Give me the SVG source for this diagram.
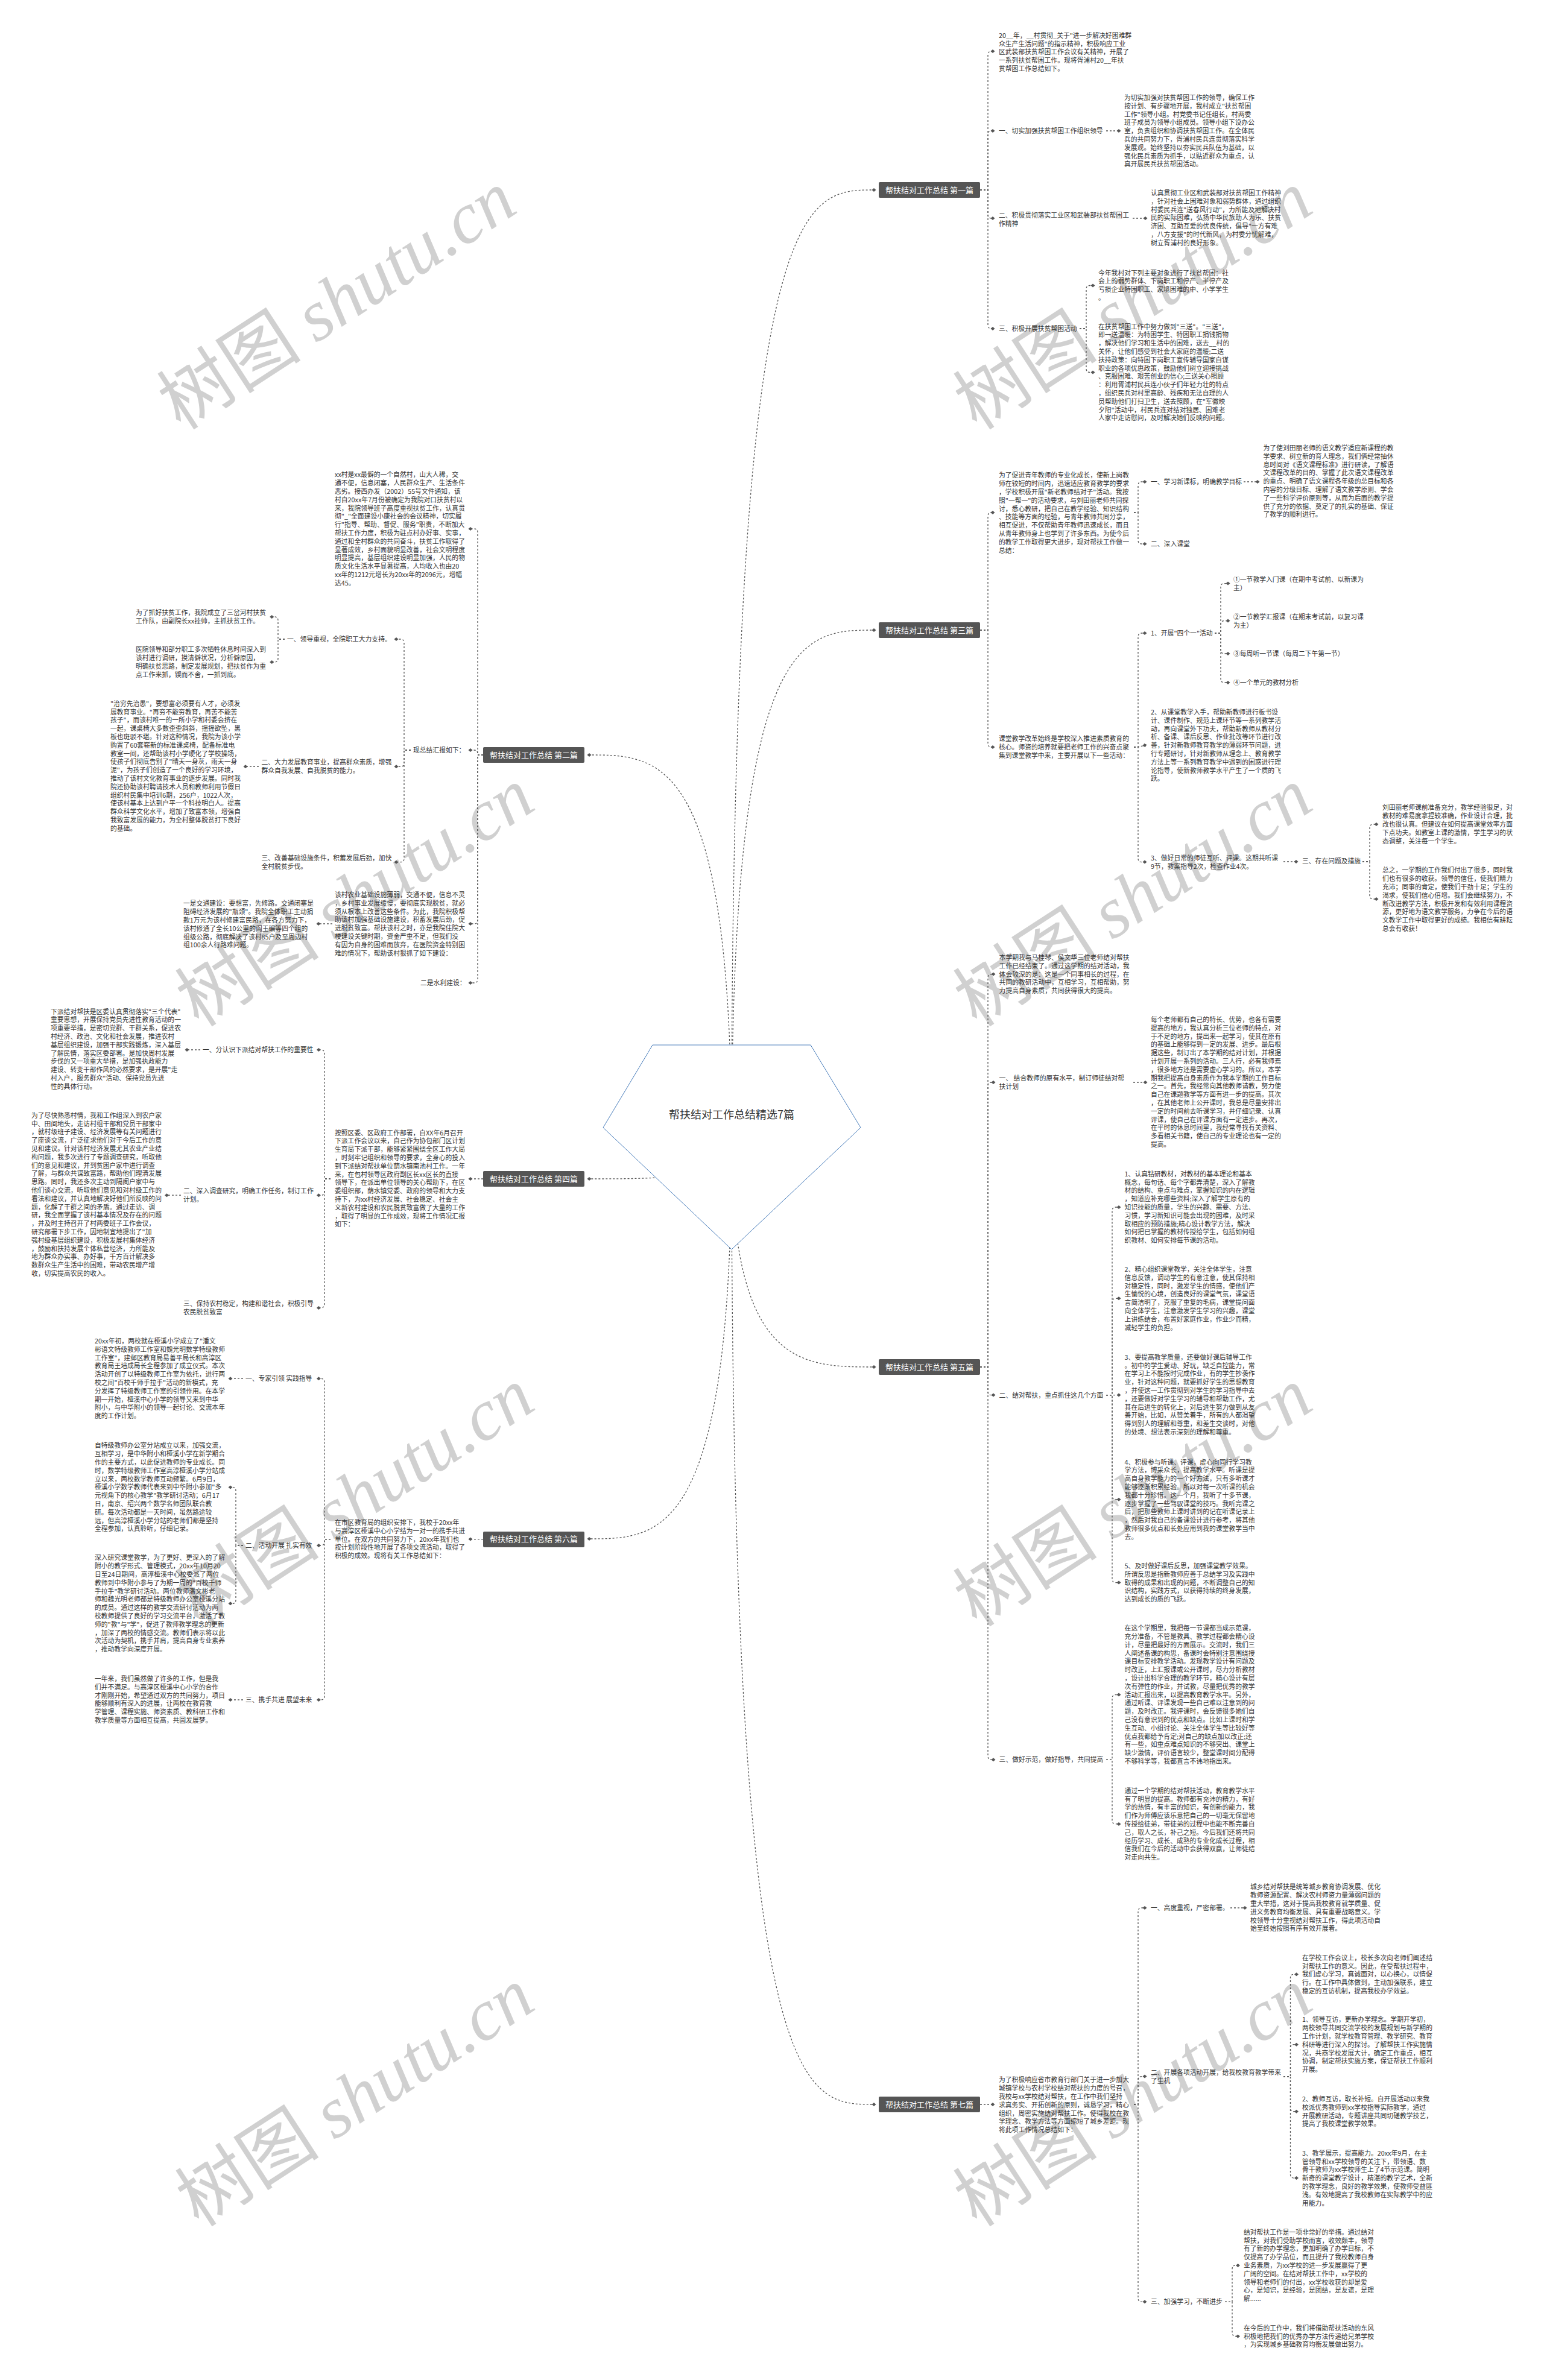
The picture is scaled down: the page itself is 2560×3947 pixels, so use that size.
<svg xmlns="http://www.w3.org/2000/svg" width="2560" height="3947" viewBox="0 0 2560 3947">
<style>
.t{font-family:"Noto Sans CJK SC","Noto Sans",sans-serif;font-size:10.8px;fill:#333}
.c path{fill:none;stroke:#555;stroke-width:1.3;stroke-dasharray:3 3;marker-end:url(#d)}
.nb{fill:#555}
.nt{font-family:"Noto Sans CJK SC","Noto Sans",sans-serif;font-size:13px;fill:#fff;text-anchor:middle}
.wm{font-family:"Noto Sans CJK SC",sans-serif;font-size:120px;fill:#d0d0d0}
.wm tspan{font-family:"Liberation Serif",serif;font-style:italic}
</style>
<defs>
<marker id="d" viewBox="-4 -4 8 8" refX="0" refY="0" markerWidth="8" markerHeight="8" markerUnits="userSpaceOnUse" orient="auto"><path d="M-3.5 0L0-3L3.5 0L0 3Z" fill="#555"/></marker>
</defs>
<rect width="2560" height="3947" fill="#fff"/>
<g id="watermark" class="wm">
<text transform="translate(300 715) rotate(-33)">树图 <tspan>shutu.cn</tspan></text>
<text transform="translate(1620 715) rotate(-33)">树图 <tspan>shutu.cn</tspan></text>
<text transform="translate(330 1705) rotate(-33)">树图 <tspan>shutu.cn</tspan></text>
<text transform="translate(1620 1705) rotate(-33)">树图 <tspan>shutu.cn</tspan></text>
<text transform="translate(330 2700) rotate(-33)">树图 <tspan>shutu.cn</tspan></text>
<text transform="translate(1620 2700) rotate(-33)">树图 <tspan>shutu.cn</tspan></text>
<text transform="translate(330 3695) rotate(-33)">树图 <tspan>shutu.cn</tspan></text>
<text transform="translate(1620 3695) rotate(-33)">树图 <tspan>shutu.cn</tspan></text>
</g>
<g id="connectors" class="c">
<path d="M1213 1900C1213 315 1330 315 1449 315"/>
<path d="M1213 1900C1213 1045 1330 1045 1449 1045"/>
<path d="M1213 1900C1213 2267 1330 2267 1449 2267"/>
<path d="M1213 1900C1213 3490 1330 3490 1449 3490"/>
<path d="M1213 1900C1213 1252 1095 1252 977 1252"/>
<path d="M1213 1900C1213 1955 1095 1955 977 1955"/>
<path d="M1213 1900C1213 2552 1095 2552 977 2552"/>
<path d="M1625 315H1638V91Q1638 85 1644 85H1646"/>
<path d="M1625 315H1638V223Q1638 217 1644 217H1646"/>
<path d="M1625 315H1638V356Q1638 362 1644 362H1646"/>
<path d="M1625 315H1638V539Q1638 545 1644 545H1646"/>
<path d="M1834 217H1855"/>
<path d="M1878 362H1899"/>
<path d="M1790 545H1801V479.5Q1801 473.5 1807 473.5H1812"/>
<path d="M1790 545H1801V611.4Q1801 617.4 1807 617.4H1812"/>
<path d="M1625 1045H1638V856Q1638 850 1644 850H1646"/>
<path d="M1625 1045H1638V1233Q1638 1239 1644 1239H1646"/>
<path d="M1880 850H1887V805Q1887 799 1893 799H1898"/>
<path d="M1880 850H1887V896Q1887 902 1893 902H1898"/>
<path d="M2062 799H2085"/>
<path d="M1880 1239H1887V1056Q1887 1050 1893 1050H1898"/>
<path d="M1880 1239H1887L1898 1236"/>
<path d="M1880 1239H1887V1423.6Q1887 1429.6 1893 1429.6H1898"/>
<path d="M2014 1050H2024V973.6Q2024 967.6 2030 967.6H2036"/>
<path d="M2014 1050H2024V1035.6Q2024 1029.6 2030 1029.6H2036"/>
<path d="M2014 1050H2024V1078Q2024 1084 2030 1084H2036"/>
<path d="M2014 1050H2024V1126Q2024 1132 2030 1132H2036"/>
<path d="M2128 1429H2149"/>
<path d="M2259 1429H2271V1373Q2271 1367 2277 1367H2282"/>
<path d="M2259 1429H2271V1485Q2271 1491 2277 1491H2282"/>
<path d="M1625 2267H1638V1621.6Q1638 1615.6 1644 1615.6H1647"/>
<path d="M1625 2267H1638V1801Q1638 1795 1644 1795H1647"/>
<path d="M1625 2267H1638V2307.6Q1638 2313.6 1644 2313.6H1647"/>
<path d="M1625 2267H1638V2912.3Q1638 2918.3 1644 2918.3H1647"/>
<path d="M1879 1795H1899"/>
<path d="M1834 2313.6H1844V2008Q1844 2002 1850 2002H1855"/>
<path d="M1834 2313.6H1844V2159.3Q1844 2153.3 1850 2153.3H1855"/>
<path d="M1834 2313.6H1855"/>
<path d="M1834 2313.6H1844V2480.7Q1844 2486.7 1850 2486.7H1855"/>
<path d="M1834 2313.6H1844V2618.6Q1844 2624.6 1850 2624.6H1855"/>
<path d="M1834 2918.3H1844V2816.6Q1844 2810.6 1850 2810.6H1855"/>
<path d="M1834 2918.3H1844V3018.9Q1844 3024.9 1850 3024.9H1855"/>
<path d="M1625 3490H1646"/>
<path d="M1880 3490H1887V3170Q1887 3164 1893 3164H1898"/>
<path d="M1880 3490H1887V3449.6Q1887 3443.6 1893 3443.6H1898"/>
<path d="M1880 3490H1887V3811.3Q1887 3817.3 1893 3817.3H1898"/>
<path d="M2040 3164H2064"/>
<path d="M2128 3443.6H2139.5V3280.3Q2139.5 3274.3 2145.5 3274.3H2149.5"/>
<path d="M2128 3443.6H2139.5V3396.7Q2139.5 3390.7 2145.5 3390.7H2149.5"/>
<path d="M2128 3443.6H2139.5V3495.7Q2139.5 3501.7 2145.5 3501.7H2149.5"/>
<path d="M2128 3443.6H2139.5V3606.1Q2139.5 3612.1 2145.5 3612.1H2149.5"/>
<path d="M2031 3817.3H2043V3762.9Q2043 3756.9 2049 3756.9H2052.5"/>
<path d="M2031 3817.3H2043V3868.5Q2043 3874.5 2049 3874.5H2052.5"/>
<path d="M801 1252H792V883Q792 877 786 877H780"/>
<path d="M801 1252H792V1250Q792 1244 786 1244H780"/>
<path d="M801 1252H792V1526Q792 1532 786 1532H780"/>
<path d="M801 1252H792V1624Q792 1630 786 1630H780"/>
<path d="M681 1244H670V1066Q670 1060 664 1060H657"/>
<path d="M681 1244H670V1265.3Q670 1271.3 664 1271.3H657"/>
<path d="M681 1244H670V1423.7Q670 1429.7 664 1429.7H657"/>
<path d="M472 1060H461V1028.9Q461 1022.9 455 1022.9H450.7"/>
<path d="M472 1060H461V1092Q461 1098 455 1098H450.7"/>
<path d="M429 1271.3H407"/>
<path d="M551 1532H528"/>
<path d="M801 1955H780"/>
<path d="M548 1955H538V1747Q538 1741 532 1741H528.4"/>
<path d="M548 1955H538V1976.2Q538 1982.2 532 1982.2H528.4"/>
<path d="M548 1955H538V2162.9Q538 2168.9 532 2168.9H528.4"/>
<path d="M332 1741H310"/>
<path d="M300 1982.2H276.5"/>
<path d="M801 2552.6H780"/>
<path d="M548 2552.6H538V2292.3Q538 2286.3 532 2286.3H528.4"/>
<path d="M548 2552.6H538V2557Q538 2563 532 2563H528.4"/>
<path d="M548 2552.6H538V2813Q538 2819 532 2819H528.4"/>
<path d="M403 2286.3H382"/>
<path d="M403 2563H391V2472.4Q391 2466.4 385 2466.4H382"/>
<path d="M403 2563H391V2653.3Q391 2659.3 385 2659.3H382"/>
<path d="M403 2819H382"/>
</g>
<g id="root">
<path d="M1082 1733H1344L1427 1870L1213 2072L1000 1870Z" fill="#fff" stroke="#4a7ebb" stroke-width="1"/>
<text x="1213" y="1855" text-anchor="middle" font-family="Noto Sans CJK SC,sans-serif" font-size="18" fill="#333">帮扶结对工作总结精选7篇</text>
</g>
<g id="b1"><rect class="nb" x="1457" y="302" width="168" height="26" rx="2"/><text class="nt" x="1541" y="319.5">帮扶结对工作总结 第一篇</text></g>
<g id="b3"><rect class="nb" x="1457" y="1032" width="168" height="26" rx="2"/><text class="nt" x="1541" y="1049.5">帮扶结对工作总结 第三篇</text></g>
<g id="b5"><rect class="nb" x="1457" y="2254" width="168" height="26" rx="2"/><text class="nt" x="1541" y="2271.5">帮扶结对工作总结 第五篇</text></g>
<g id="b7"><rect class="nb" x="1457" y="3477" width="168" height="26" rx="2"/><text class="nt" x="1541" y="3494.5">帮扶结对工作总结 第七篇</text></g>
<g id="b2"><rect class="nb" x="801" y="1239" width="168" height="26" rx="2"/><text class="nt" x="885" y="1256.5">帮扶结对工作总结 第二篇</text></g>
<g id="b4"><rect class="nb" x="801" y="1942" width="168" height="26" rx="2"/><text class="nt" x="885" y="1959.5">帮扶结对工作总结 第四篇</text></g>
<g id="b6"><rect class="nb" x="801" y="2540" width="168" height="26" rx="2"/><text class="nt" x="885" y="2557">帮扶结对工作总结 第六篇</text></g>

<g id="n1-0"><text class="t" x="1656" y="62.8"><tspan x="1656">20__年，__村贯彻_关于"进一步解决好困难群</tspan><tspan x="1656" dy="13.8">众生产生活问题"的指示精神，积极响应工业</tspan><tspan x="1656" dy="13.8">区武装部扶贫帮困工作会议有关精神，开展了</tspan><tspan x="1656" dy="13.8">一系列扶贫帮困工作。现将胥浦村20__年扶</tspan><tspan x="1656" dy="13.8">贫帮困工作总结如下。</tspan></text></g>
<g id="n1-1"><text class="t" x="1656" y="220.7">一、切实加强扶贫帮困工作组织领导</text></g>
<g id="n1-1-0"><text class="t" x="1864" y="166"><tspan x="1864">为切实加强对扶贫帮困工作的领导，确保工作</tspan><tspan x="1864" dy="13.8">按计划、有步骤地开展，我村成立"扶贫帮困</tspan><tspan x="1864" dy="13.8">工作"领导小组。村党委书记任组长，村两委</tspan><tspan x="1864" dy="13.8">班子成员为领导小组成员。领导小组下设办公</tspan><tspan x="1864" dy="13.8">室，负责组织和协调扶贫帮困工作。在全体民</tspan><tspan x="1864" dy="13.8">兵的共同努力下，胥浦村民兵连贯彻落实科学</tspan><tspan x="1864" dy="13.8">发展观。始终坚持以夯实民兵队伍为基础，以</tspan><tspan x="1864" dy="13.8">强化民兵素质为抓手，以贴近群众为重点，认</tspan><tspan x="1864" dy="13.8">真开展民兵扶贫帮困活动。</tspan></text></g>
<g id="n1-2"><text class="t" x="1656" y="361"><tspan x="1656">二、积极贯彻落实工业区和武装部扶贫帮困工</tspan><tspan x="1656" dy="13.8">作精神</tspan></text></g>
<g id="n1-2-0"><text class="t" x="1908" y="324"><tspan x="1908">认真贯彻工业区和武装部对扶贫帮困工作精神</tspan><tspan x="1908" dy="13.8">，针对社会上困难对象和弱势群体，通过组织</tspan><tspan x="1908" dy="13.8">村委民兵连"送春风行动"，力所能及地解决村</tspan><tspan x="1908" dy="13.8">民的实际困难，弘扬中华民族助人为乐、扶贫</tspan><tspan x="1908" dy="13.8">济困、互助互爱的优良传统，倡导"一方有难</tspan><tspan x="1908" dy="13.8">，八方支援"的时代新风，为村委分忧解难，</tspan><tspan x="1908" dy="13.8">树立胥浦村的良好形象。</tspan></text></g>
<g id="n1-3"><text class="t" x="1656" y="549">三、积极开展扶贫帮困活动</text></g>
<g id="n1-3-0"><text class="t" x="1821" y="456.6"><tspan x="1821">今年我村对下列主要对象进行了扶贫帮困：社</tspan><tspan x="1821" dy="13.8">会上的弱势群体、下岗职工和停产、半停产及</tspan><tspan x="1821" dy="13.8">亏损企业特困职工、家境困难的中、小学学生</tspan><tspan x="1821" dy="13.8">。</tspan></text></g>
<g id="n1-3-1"><text class="t" x="1821" y="545.5"><tspan x="1821">在扶贫帮困工作中努力做到"三送"。"三送"，</tspan><tspan x="1821" dy="13.8">即一送温暖：为特困学生、特困职工捐钱捐物</tspan><tspan x="1821" dy="13.8">，解决他们学习和生活中的困难，送去__村的</tspan><tspan x="1821" dy="13.8">关怀，让他们感受到社会大家庭的温暖;二送</tspan><tspan x="1821" dy="13.8">扶持政策：向特困下岗职工宣传辅导国家自谋</tspan><tspan x="1821" dy="13.8">职业的各项优惠政策，鼓励他们树立迎接挑战</tspan><tspan x="1821" dy="13.8">、克服困难、艰苦创业的信心;三送关心照顾</tspan><tspan x="1821" dy="13.8">：利用胥浦村民兵连小伙子们年轻力壮的特点</tspan><tspan x="1821" dy="13.8">，组织民兵对村里高龄、残疾和无法自理的人</tspan><tspan x="1821" dy="13.8">员帮助他们打扫卫生，送去照顾，在"军徽映</tspan><tspan x="1821" dy="13.8">夕阳"活动中，村民兵连对结对独居、困难老</tspan><tspan x="1821" dy="13.8">人家中走访慰问，及时解决她们反映的问题。</tspan></text></g>

<g id="n3-0"><text class="t" x="1656" y="792.3"><tspan x="1656">为了促进青年教师的专业化成长，使新上岗教</tspan><tspan x="1656" dy="13.8">师在较短的时间内，迅速适应教育教学的要求</tspan><tspan x="1656" dy="13.8">，学校积极开展"新老教师结对子"活动。我按</tspan><tspan x="1656" dy="13.8">照"一帮一"的活动要求，与刘田丽老师共同探</tspan><tspan x="1656" dy="13.8">讨，悉心教研，把自己在教学经验、知识结构</tspan><tspan x="1656" dy="13.8">、技能等方面的经验，与青年教师共同分享，</tspan><tspan x="1656" dy="13.8">相互促进，不仅帮助青年教师迅速成长，而且</tspan><tspan x="1656" dy="13.8">从青年教师身上也学到了许多东西。为使今后</tspan><tspan x="1656" dy="13.8">的教学工作取得更大进步，现对帮扶工作做一</tspan><tspan x="1656" dy="13.8">总结：</tspan></text></g>
<g id="n3-0-0"><text class="t" x="1908" y="803">一、学习新课标，明确教学目标</text></g>
<g id="n3-0-0-0"><text class="t" x="2094.5" y="747"><tspan x="2094.5">为了使刘田丽老师的语文教学适应新课程的教</tspan><tspan x="2094.5" dy="13.8">学要求、树立新的育人理念，我们俩经常抽休</tspan><tspan x="2094.5" dy="13.8">息时间对《语文课程标准》进行研读，了解语</tspan><tspan x="2094.5" dy="13.8">文课程改革的目的、掌握了此次语文课程改革</tspan><tspan x="2094.5" dy="13.8">的重点、明确了语文课程各年级的总目标和各</tspan><tspan x="2094.5" dy="13.8">内容的分级目标、理解了语文教学原则、学会</tspan><tspan x="2094.5" dy="13.8">了一些科学评价原则等，从而为后面的教学提</tspan><tspan x="2094.5" dy="13.8">供了充分的依据、奠定了的扎实的基础、保证</tspan><tspan x="2094.5" dy="13.8">了教学的顺利进行。</tspan></text></g>
<g id="n3-0-1"><text class="t" x="1908" y="906">二、深入课堂</text></g>
<g id="n3-1"><text class="t" x="1656" y="1229"><tspan x="1656">课堂教学改革始终是学校深入推进素质教育的</tspan><tspan x="1656" dy="13.8">核心。师资的培养就要把老师工作的兴奋点聚</tspan><tspan x="1656" dy="13.8">集到课堂教学中来，主要开展以下一些活动：</tspan></text></g>
<g id="n3-1-0"><text class="t" x="1908" y="1054">1、开展"四个一"活动</text></g>
<g id="n3-1-0-0"><text class="t" x="2045" y="964.7"><tspan x="2045">①一节教学入门课（在期中考试前、以新课为</tspan><tspan x="2045" dy="13.8">主）</tspan></text></g>
<g id="n3-1-0-1"><text class="t" x="2045" y="1026.7"><tspan x="2045">②一节教学汇报课（在期末考试前，以复习课</tspan><tspan x="2045" dy="13.8">为主）</tspan></text></g>
<g id="n3-1-0-2"><text class="t" x="2045" y="1088">③每周听一节课（每周二下午第一节）</text></g>
<g id="n3-1-0-3"><text class="t" x="2045" y="1136">④一个单元的教材分析</text></g>
<g id="n3-1-1"><text class="t" x="1908" y="1185"><tspan x="1908">2、从课堂教学入手，帮助新教师进行板书设</tspan><tspan x="1908" dy="13.8">计、课件制作、规范上课环节等一系列教学活</tspan><tspan x="1908" dy="13.8">动，再向课堂外下功夫，帮助新教师从教材分</tspan><tspan x="1908" dy="13.8">析、备课、课后反思、作业批改等环节进行改</tspan><tspan x="1908" dy="13.8">善，针对新教师教育教学的薄弱环节问题，进</tspan><tspan x="1908" dy="13.8">行专题研讨，针对新教师从理念上、教育教学</tspan><tspan x="1908" dy="13.8">方法上等一系列教育教学中遇到的困惑进行理</tspan><tspan x="1908" dy="13.8">论指导，使新教师教学水平产生了一个质的飞</tspan><tspan x="1908" dy="13.8">跃。</tspan></text></g>
<g id="n3-1-2"><text class="t" x="1908" y="1426.7"><tspan x="1908">3、做好日常的师徒互听、评课。这期共听课</tspan><tspan x="1908" dy="13.8">9节，教案指导2次，检查作业4次。</tspan></text></g>
<g id="n3-1-2-0"><text class="t" x="2159" y="1432">三、存在问题及措施</text></g>
<g id="n3-1-2-0-0"><text class="t" x="2292" y="1343.3"><tspan x="2292">刘田丽老师课前准备充分，教学经验很足，对</tspan><tspan x="2292" dy="13.8">教材的难易度拿捏较准确，作业设计合理，批</tspan><tspan x="2292" dy="13.8">改也很认真。但建议在如何提高课堂效率方面</tspan><tspan x="2292" dy="13.8">下点功夫。如教室上课的激情，学生学习的状</tspan><tspan x="2292" dy="13.8">态调整，关注每一个学生。</tspan></text></g>
<g id="n3-1-2-0-1"><text class="t" x="2292" y="1447.3"><tspan x="2292">总之，一学期的工作我们付出了很多，同时我</tspan><tspan x="2292" dy="13.8">们也有很多的收获。领导的信任，使我们精力</tspan><tspan x="2292" dy="13.8">充沛；同事的肯定，使我们干劲十足；学生的</tspan><tspan x="2292" dy="13.8">渴求，使我们信心倍增。我们会继续努力，不</tspan><tspan x="2292" dy="13.8">断改进教学方法，积极开发和有效利用课程资</tspan><tspan x="2292" dy="13.8">源，更好地为语文教学服务，力争在今后的语</tspan><tspan x="2292" dy="13.8">文教学工作中取得更好的成绩。我相信有耕耘</tspan><tspan x="2292" dy="13.8">总会有收获！</tspan></text></g>

<g id="n5-0"><text class="t" x="1656.6" y="1592"><tspan x="1656.6">本学期我与马桂琴、侯文华三位老师结对帮扶</tspan><tspan x="1656.6" dy="13.8">工作已经结束了。通过这学期的结对活动，我</tspan><tspan x="1656.6" dy="13.8">体会较深的是：这是一个同事相长的过程，在</tspan><tspan x="1656.6" dy="13.8">共同的教研活动中，互相学习，互相帮助，努</tspan><tspan x="1656.6" dy="13.8">力提高自身素质，共同获得很大的提高。</tspan></text></g>
<g id="n5-1"><text class="t" x="1656.6" y="1792"><tspan x="1656.6">一、 结合教师的原有水平，制订师徒结对帮</tspan><tspan x="1656.6" dy="13.8">扶计划</tspan></text></g>
<g id="n5-1-0"><text class="t" x="1908" y="1695"><tspan x="1908">每个老师都有自己的特长、优势，也各有需要</tspan><tspan x="1908" dy="13.8">提高的地方，我认真分析三位老师的特点，对</tspan><tspan x="1908" dy="13.8">于不足的地方，提出来一起学习，使其在原有</tspan><tspan x="1908" dy="13.8">的基础上能够得到一定的发展、进步。最后根</tspan><tspan x="1908" dy="13.8">据这些，制订出了本学期的结对计划，并根据</tspan><tspan x="1908" dy="13.8">计划开展一系列的活动。三人行，必有我师焉</tspan><tspan x="1908" dy="13.8">，很多地方还是需要虚心学习的。所以，本学</tspan><tspan x="1908" dy="13.8">期我把提高自身素质作为我本学期的工作目标</tspan><tspan x="1908" dy="13.8">之一。首先，我经常向其他教师请教，努力使</tspan><tspan x="1908" dy="13.8">自己在课题教学等方面有进一步的提高。其次</tspan><tspan x="1908" dy="13.8">，在其他老师上公开课时，我总是尽量安排出</tspan><tspan x="1908" dy="13.8">一定的时间前去听课学习，并仔细记录、认真</tspan><tspan x="1908" dy="13.8">评课，使自己在评课方面有一定进步。再次，</tspan><tspan x="1908" dy="13.8">在平时的休息时间里，我经常寻找有关资料、</tspan><tspan x="1908" dy="13.8">多看相关书籍，使自己的专业理论也有一定的</tspan><tspan x="1908" dy="13.8">提高。</tspan></text></g>
<g id="n5-2"><text class="t" x="1656.6" y="2317.6">二、结对帮扶，重点抓住这几个方面</text></g>
<g id="n5-2-0"><text class="t" x="1864.6" y="1950.7"><tspan x="1864.6">1、认真钻研教材，对教材的基本理论和基本</tspan><tspan x="1864.6" dy="13.8">概念，每句话、每个字都弄清楚，深入了解教</tspan><tspan x="1864.6" dy="13.8">材的结构、重点与难点，掌握知识的内在逻辑</tspan><tspan x="1864.6" dy="13.8">，知道应补充哪些资料;深入了解学生原有的</tspan><tspan x="1864.6" dy="13.8">知识技能的质量，学生的兴趣、需要、方法、</tspan><tspan x="1864.6" dy="13.8">习惯，学习新知识可能会出现的困难，及时采</tspan><tspan x="1864.6" dy="13.8">取相应的预防措施;精心设计教学方法，解决</tspan><tspan x="1864.6" dy="13.8">如何把已掌握的教材传授给学生，包括如何组</tspan><tspan x="1864.6" dy="13.8">织教材、如何安排每节课的活动。</tspan></text></g>
<g id="n5-2-1"><text class="t" x="1864.6" y="2109"><tspan x="1864.6">2、精心组织课堂教学，关注全体学生，注意</tspan><tspan x="1864.6" dy="13.8">信息反馈，调动学生的有意注意，使其保持相</tspan><tspan x="1864.6" dy="13.8">对稳定性，同时，激发学生的情感，使他们产</tspan><tspan x="1864.6" dy="13.8">生愉悦的心境，创造良好的课堂气氛，课堂语</tspan><tspan x="1864.6" dy="13.8">言简洁明了，克服了重复的毛病，课堂提问面</tspan><tspan x="1864.6" dy="13.8">向全体学生，注意激发学生学习的兴趣，课堂</tspan><tspan x="1864.6" dy="13.8">上讲练结合，布置好家庭作业，作业少而精，</tspan><tspan x="1864.6" dy="13.8">减轻学生的负担。</tspan></text></g>
<g id="n5-2-2"><text class="t" x="1864.6" y="2254.8"><tspan x="1864.6">3、要提高教学质量，还要做好课后辅导工作</tspan><tspan x="1864.6" dy="13.8">。初中的学生爱动、好玩，缺乏自控能力，常</tspan><tspan x="1864.6" dy="13.8">在学习上不能按时完成作业，有的学生抄袭作</tspan><tspan x="1864.6" dy="13.8">业，针对这种问题，就要抓好学生的思想教育</tspan><tspan x="1864.6" dy="13.8">，并使这一工作贯彻到对学生的学习指导中去</tspan><tspan x="1864.6" dy="13.8">，还要做好对学生学习的辅导和帮助工作，尤</tspan><tspan x="1864.6" dy="13.8">其在后进生的转化上，对后进生努力做到从友</tspan><tspan x="1864.6" dy="13.8">善开始，比如，从赞美着手，所有的人都渴望</tspan><tspan x="1864.6" dy="13.8">得到别人的理解和尊重，和差生交谈时，对他</tspan><tspan x="1864.6" dy="13.8">的处境、想法表示深刻的理解和尊重。</tspan></text></g>
<g id="n5-2-3"><text class="t" x="1864.6" y="2428.6"><tspan x="1864.6">4、积极参与听课、评课，虚心向同行学习教</tspan><tspan x="1864.6" dy="13.8">学方法，博采众长，提高教学水平。听课是提</tspan><tspan x="1864.6" dy="13.8">高自身教学能力的一个好方法，只有多听课才</tspan><tspan x="1864.6" dy="13.8">能够逐渐积累经验。所以对每一次听课的机会</tspan><tspan x="1864.6" dy="13.8">我都十分珍惜。这一个月，我听了十多节课，</tspan><tspan x="1864.6" dy="13.8">逐步掌握了一些驾驭课堂的技巧。我听完课之</tspan><tspan x="1864.6" dy="13.8">后，把那些教师上课时讲到的记在听课记录上</tspan><tspan x="1864.6" dy="13.8">，然后对我自己的备课设计进行参考，将其他</tspan><tspan x="1864.6" dy="13.8">教师很多优点和长处应用到我的课堂教学当中</tspan><tspan x="1864.6" dy="13.8">去。</tspan></text></g>
<g id="n5-2-4"><text class="t" x="1864.6" y="2601"><tspan x="1864.6">5、及时做好课后反思，加强课堂教学效果。</tspan><tspan x="1864.6" dy="13.8">所谓反思是指新教师应善于总结学习及实践中</tspan><tspan x="1864.6" dy="13.8">取得的成果和出现的问题，不断调整自己的知</tspan><tspan x="1864.6" dy="13.8">识结构，实践方式，以获得持续的终身发展，</tspan><tspan x="1864.6" dy="13.8">达到成长的质的飞跃。</tspan></text></g>
<g id="n5-3"><text class="t" x="1656.6" y="2922.3">三、做好示范，做好指导，共同提高</text></g>
<g id="n5-3-0"><text class="t" x="1864.6" y="2704.2"><tspan x="1864.6">在这个学期里，我把每一节课都当成示范课，</tspan><tspan x="1864.6" dy="13.8">充分准备，不管是教具、教学过程都会精心设</tspan><tspan x="1864.6" dy="13.8">计，尽量把最好的方面展示。交流时，我们三</tspan><tspan x="1864.6" dy="13.8">人阐述备课的构思，备课时会特别注意围绕授</tspan><tspan x="1864.6" dy="13.8">课目标安排教学活动。发现教学设计有问题及</tspan><tspan x="1864.6" dy="13.8">时改正，上汇报课或公开课时，尽力分析教材</tspan><tspan x="1864.6" dy="13.8">，设计出科学合理的教学环节，精心设计有层</tspan><tspan x="1864.6" dy="13.8">次有弹性的作业，并试教，尽量把优秀的教学</tspan><tspan x="1864.6" dy="13.8">活动汇报出来，以提高教育教学水平。另外，</tspan><tspan x="1864.6" dy="13.8">通过听课、评课发现一些自己难以注意到的问</tspan><tspan x="1864.6" dy="13.8">题，及时改正。我评课时，会反馈很多她们自</tspan><tspan x="1864.6" dy="13.8">己没有意识到的优点和缺点。比如上课时和学</tspan><tspan x="1864.6" dy="13.8">生互动、小组讨论、关注全体学生等比较好等</tspan><tspan x="1864.6" dy="13.8">优点我都给予肯定;对自己的缺点加以改正;还</tspan><tspan x="1864.6" dy="13.8">有一些，如重点难点知识的不够突出、课堂上</tspan><tspan x="1864.6" dy="13.8">缺少激情，评价语言较少，整堂课时间分配得</tspan><tspan x="1864.6" dy="13.8">不够科学等，我都直言不讳地指出来。</tspan></text></g>
<g id="n5-3-1"><text class="t" x="1864.6" y="2973.7"><tspan x="1864.6">通过一个学期的结对帮扶活动，教育教学水平</tspan><tspan x="1864.6" dy="13.8">有了明显的提高。教师都有充沛的精力，有好</tspan><tspan x="1864.6" dy="13.8">学的热情，有丰富的知识，有创新的能力，我</tspan><tspan x="1864.6" dy="13.8">们作为师傅应该乐意把自己的一切毫无保留地</tspan><tspan x="1864.6" dy="13.8">传授给徒弟，带徒弟的过程中也能不断完善自</tspan><tspan x="1864.6" dy="13.8">己，取人之长，补己之短。今后我们还将共同</tspan><tspan x="1864.6" dy="13.8">经历学习、成长、成熟的专业化成长过程，相</tspan><tspan x="1864.6" dy="13.8">信我们在今后的活动中会获得双赢，让师徒结</tspan><tspan x="1864.6" dy="13.8">对走向共生。</tspan></text></g>

<g id="n7-0"><text class="t" x="1656" y="3453.3"><tspan x="1656">为了积极响应省市教育行部门关于进一步加大</tspan><tspan x="1656" dy="13.8">城镇学校与农村学校结对帮扶的力度的号召，</tspan><tspan x="1656" dy="13.8">我校与xx学校结对帮扶，在工作中我们坚持</tspan><tspan x="1656" dy="13.8">求真务实、开拓创新的原则，诚恳学习，精心</tspan><tspan x="1656" dy="13.8">组织，周密实施结对帮扶工作。使得我校在教</tspan><tspan x="1656" dy="13.8">学理念、教学方法等方面缩短了城乡差距。现</tspan><tspan x="1656" dy="13.8">将此项工作情况总结如下：</tspan></text></g>
<g id="n7-0-0"><text class="t" x="1908" y="3168.3">一、高度重视，严密部署。</text></g>
<g id="n7-0-0-0"><text class="t" x="2073" y="3133.3"><tspan x="2073">城乡结对帮扶是统筹城乡教育协调发展、优化</tspan><tspan x="2073" dy="13.8">教师资源配置、解决农村师资力量薄弱问题的</tspan><tspan x="2073" dy="13.8">重大举措，这对于提高我校教育就学质量、促</tspan><tspan x="2073" dy="13.8">进义务教育均衡发展、具有重要战略意义。学</tspan><tspan x="2073" dy="13.8">校领导十分重视结对帮扶工作，得此项活动自</tspan><tspan x="2073" dy="13.8">始至终始按照有序有效开展着。</tspan></text></g>
<g id="n7-0-1"><text class="t" x="1908" y="3440.7"><tspan x="1908">二、开展各项活动开展，给我校教育教学带来</tspan><tspan x="1908" dy="13.8">了生机</tspan></text></g>
<g id="n7-0-1-0"><text class="t" x="2159" y="3250.7"><tspan x="2159">在学校工作会议上，校长多次向老师们阐述结</tspan><tspan x="2159" dy="13.8">对帮扶工作的意义。因此，在受帮扶过程中，</tspan><tspan x="2159" dy="13.8">我们虚心学习，真诚面对，以心换心，以情促</tspan><tspan x="2159" dy="13.8">行。在工作中具体做到，主动加强联系，建立</tspan><tspan x="2159" dy="13.8">稳定的互访机制，提高我校办学效益。</tspan></text></g>
<g id="n7-0-1-1"><text class="t" x="2159" y="3353.3"><tspan x="2159">1、领导互访，更新办学理念。学期开学初，</tspan><tspan x="2159" dy="13.8">两校领导共同交流学校的发展规划与新学期的</tspan><tspan x="2159" dy="13.8">工作计划，就学校教育管理、教学研究、教育</tspan><tspan x="2159" dy="13.8">科研等进行深入的探讨。了解帮扶工作实施情</tspan><tspan x="2159" dy="13.8">况，共商学校发展大计，确定工作重点，相互</tspan><tspan x="2159" dy="13.8">协调，制定帮扶实施方案，保证帮扶工作顺利</tspan><tspan x="2159" dy="13.8">开展。</tspan></text></g>
<g id="n7-0-1-2"><text class="t" x="2159" y="3485"><tspan x="2159">2、教师互访，取长补短。自开展活动以来我</tspan><tspan x="2159" dy="13.8">校派优秀教师到xx学校指导实际教学，通过</tspan><tspan x="2159" dy="13.8">开展教研活动，专题讲座共同切磋教学技艺，</tspan><tspan x="2159" dy="13.8">提高了我校课堂教学效果。</tspan></text></g>
<g id="n7-0-1-3"><text class="t" x="2159" y="3574.7"><tspan x="2159">3、教学展示，提高能力。20xx年9月，在主</tspan><tspan x="2159" dy="13.8">管领导和xx学校领导的关注下，带领语、数</tspan><tspan x="2159" dy="13.8">骨干教师为xx学校师生上了4节示范课。简明</tspan><tspan x="2159" dy="13.8">新奇的课堂教学设计，精湛的教学艺术，全新</tspan><tspan x="2159" dy="13.8">的教学理念，良好的教学效果，使教师受益匪</tspan><tspan x="2159" dy="13.8">浅。有效地提高了我校教师在实际教学中的应</tspan><tspan x="2159" dy="13.8">用能力。</tspan></text></g>
<g id="n7-0-2"><text class="t" x="1908" y="3821.3">三、加强学习，不断进步</text></g>
<g id="n7-0-2-0"><text class="t" x="2062" y="3705.7"><tspan x="2062">结对帮扶工作是一项非常好的举措。通过结对</tspan><tspan x="2062" dy="13.8">帮扶，对我们受助学校而言，收效颇丰，领导</tspan><tspan x="2062" dy="13.8">有了新的办学理念，更加明确了办学目标，不</tspan><tspan x="2062" dy="13.8">仅提高了办学品位，而且提升了我校教师自身</tspan><tspan x="2062" dy="13.8">业务素质，为xx学校的进一步发展赢得了更</tspan><tspan x="2062" dy="13.8">广阔的空间。在结对帮扶工作中，xx学校的</tspan><tspan x="2062" dy="13.8">领导和老师们的付出，xx学校收获的却是爱</tspan><tspan x="2062" dy="13.8">心，是知识，是经验，是团结，是友谊，是理</tspan><tspan x="2062" dy="13.8">解......</tspan></text></g>
<g id="n7-0-2-1"><text class="t" x="2062" y="3864.7"><tspan x="2062">在今后的工作中，我们将借助帮扶活动的东风</tspan><tspan x="2062" dy="13.8">积极地把我们的优秀办学方法传递给兄弟学校</tspan><tspan x="2062" dy="13.8">，为实现城乡基础教育均衡发展做出努力。</tspan></text></g>

<g id="n2-0"><text class="t" x="555" y="791.3"><tspan x="555">xx村是xx最僻的一个自然村，山大人稀，交</tspan><tspan x="555" dy="13.8">通不便，信息闭塞，人民群众生产、生活条件</tspan><tspan x="555" dy="13.8">恶劣。接西办发（2002）55号文件通知，该</tspan><tspan x="555" dy="13.8">村自20xx年7月份被确定为我院对口扶贫村以</tspan><tspan x="555" dy="13.8">来，我院领导班子高度重视扶贫工作，认真贯</tspan><tspan x="555" dy="13.8">彻"_"全面建设小康社会的会议精神，切实履</tspan><tspan x="555" dy="13.8">行"指导、帮助、督促、服务"职责，不断加大</tspan><tspan x="555" dy="13.8">帮扶工作力度，积极为驻点村办好事、实事，</tspan><tspan x="555" dy="13.8">通过和全村群众的共同奋斗，扶贫工作取得了</tspan><tspan x="555" dy="13.8">显著成效，乡村面貌明显改善，社会文明程度</tspan><tspan x="555" dy="13.8">明显提高，基层组织建设明显加强，人民的物</tspan><tspan x="555" dy="13.8">质文化生活水平显著提高，人均收入也由20</tspan><tspan x="555" dy="13.8">xx年的1212元增长为20xx年的2096元，增幅</tspan><tspan x="555" dy="13.8">达45。</tspan></text></g>
<g id="n2-1"><text class="t" x="685" y="1248.3">现总结汇报如下：</text></g>
<g id="n2-1-0"><text class="t" x="476" y="1064">一、领导重视，全院职工大力支持。</text></g>
<g id="n2-1-0-0"><text class="t" x="225" y="1020"><tspan x="225">为了抓好扶贫工作，我院成立了三岔河村扶贫</tspan><tspan x="225" dy="13.8">工作队，由副院长xx挂帅，主抓扶贫工作。</tspan></text></g>
<g id="n2-1-0-1"><text class="t" x="225" y="1081.3"><tspan x="225">医院领导和部分职工多次牺牲休息时间深入到</tspan><tspan x="225" dy="13.8">该村进行调研，摸清僻状况，分析僻原因，</tspan><tspan x="225" dy="13.8">明确扶贫思路，制定发展规划，把扶贫作为重</tspan><tspan x="225" dy="13.8">点工作来抓，锲而不舍，一抓到底。</tspan></text></g>
<g id="n2-1-1"><text class="t" x="433.5" y="1268.3"><tspan x="433.5">二、大力发展教育事业，提高群众素质，增强</tspan><tspan x="433.5" dy="13.8">群众自我发展、自我脱贫的能力。</tspan></text></g>
<g id="n2-1-1-0"><text class="t" x="183" y="1170.7"><tspan x="183">"治穷先治愚"，要想富必须要有人才，必须发</tspan><tspan x="183" dy="13.8">展教育事业。"再穷不能穷教育，再苦不能苦</tspan><tspan x="183" dy="13.8">孩子"，而该村唯一的一所小学和村委会挤在</tspan><tspan x="183" dy="13.8">一起，课桌椅大多数歪歪斜斜，摇摇欲坠，黑</tspan><tspan x="183" dy="13.8">板也斑驳不堪。针对这种情况，我院为该小学</tspan><tspan x="183" dy="13.8">购置了60套崭新的标准课桌椅，配备标准电</tspan><tspan x="183" dy="13.8">教室一间，还帮助该村小学硬化了学校操场，</tspan><tspan x="183" dy="13.8">使孩子们彻底告别了"晴天一身灰，雨天一身</tspan><tspan x="183" dy="13.8">泥"，为孩子们创造了一个良好的学习环境，</tspan><tspan x="183" dy="13.8">推动了该村文化教育事业的逐步发展。同时我</tspan><tspan x="183" dy="13.8">院还协助该村聘请技术人员和教师利用节假日</tspan><tspan x="183" dy="13.8">组织村民集中培训6期，256户，1022人次，</tspan><tspan x="183" dy="13.8">使该村基本上达到户平一个科技明白人。提高</tspan><tspan x="183" dy="13.8">群众科学文化水平，增加了致富本领，增强自</tspan><tspan x="183" dy="13.8">我致富发展的能力，为全村整体脱贫打下良好</tspan><tspan x="183" dy="13.8">的基础。</tspan></text></g>
<g id="n2-1-2"><text class="t" x="433.5" y="1426.7"><tspan x="433.5">三、改善基础设施条件，积蓄发展后劲，加快</tspan><tspan x="433.5" dy="13.8">全村脱贫步伐。</tspan></text></g>
<g id="n2-2"><text class="t" x="555" y="1488"><tspan x="555">该村农业基础设施薄弱，交通不便，信息不灵</tspan><tspan x="555" dy="13.8">，乡村事业发展缓慢，要彻底实现脱贫，就必</tspan><tspan x="555" dy="13.8">须从根本上改善这些条件。为此，我院积极帮</tspan><tspan x="555" dy="13.8">助该村加强基础设施建设，积蓄发展后劲，促</tspan><tspan x="555" dy="13.8">进脱贫致富。帮扶该村之时，亦是我院住院大</tspan><tspan x="555" dy="13.8">楼建设关键时期，资金严重不足，但我们没</tspan><tspan x="555" dy="13.8">有因为自身的困难而放弃，在医院资金特别困</tspan><tspan x="555" dy="13.8">难的情况下，帮助该村狠抓了如下建设：</tspan></text></g>
<g id="n2-2-0"><text class="t" x="304" y="1502.3"><tspan x="304">一是交通建设：要想富，先修路。交通闭塞是</tspan><tspan x="304" dy="13.8">阻碍经济发展的"瓶颈"。我院全体职工主动捐</tspan><tspan x="304" dy="13.8">款1万元为该村修建富民路，在各方努力下，</tspan><tspan x="304" dy="13.8">该村修通了全长10公里的阎王碥等四个组的</tspan><tspan x="304" dy="13.8">组级公路，彻底解决了该村85户及至周边村</tspan><tspan x="304" dy="13.8">组100余人行路难问题。</tspan></text></g>
<g id="n2-3"><text class="t" x="697" y="1634">二是水利建设：</text></g>

<g id="n4-0"><text class="t" x="555" y="1882.5"><tspan x="555">按照区委、区政府工作部署，自XX年6月召开</tspan><tspan x="555" dy="13.8">下派工作会议以来，自己作为协包部门区计划</tspan><tspan x="555" dy="13.8">生育局下派干部，能够紧紧围绕全区工作大局</tspan><tspan x="555" dy="13.8">，时刻牢记组织和领导的要求，全身心的投入</tspan><tspan x="555" dy="13.8">到下派结对帮扶单位荫水镇南池村工作。一年</tspan><tspan x="555" dy="13.8">来，在包村领导区政府副区长xx区长的直接</tspan><tspan x="555" dy="13.8">领导下，在派出单位领导的关心帮助下，在区</tspan><tspan x="555" dy="13.8">委组织部，荫水镇党委、政府的领导和大力支</tspan><tspan x="555" dy="13.8">持下，为xx村经济发展、社会稳定、社会主</tspan><tspan x="555" dy="13.8">义新农村建设和农民脱贫致富做了大量的工作</tspan><tspan x="555" dy="13.8">，取得了明显的工作成效，现将工作情况汇报</tspan><tspan x="555" dy="13.8">如下：</tspan></text></g>
<g id="n4-0-0"><text class="t" x="336" y="1744.7">一、分认识下派结对帮扶工作的重要性</text></g>
<g id="n4-0-0-0"><text class="t" x="84" y="1681.6"><tspan x="84">下派结对帮扶是区委认真贯彻落实"三个代表"</tspan><tspan x="84" dy="13.8">重要思想，开展保持党员先进性教育活动的一</tspan><tspan x="84" dy="13.8">项重要举措，是密切党群、干群关系，促进农</tspan><tspan x="84" dy="13.8">村经济、政治、文化和社会发展，推进农村</tspan><tspan x="84" dy="13.8">基层组织建设，加强干部实践锻炼，深入基层</tspan><tspan x="84" dy="13.8">了解民情，落实区委部署。是加快周村发展</tspan><tspan x="84" dy="13.8">步伐的又一项重大举措，是加强执政能力</tspan><tspan x="84" dy="13.8">建设、转变干部作风的必然要求，是开展"走</tspan><tspan x="84" dy="13.8">村入户，服务群众"活动、保持党员先进</tspan><tspan x="84" dy="13.8">性的具体行动。</tspan></text></g>
<g id="n4-0-1"><text class="t" x="304" y="1979.3"><tspan x="304">二、深入调查研究，明确工作任务，制订工作</tspan><tspan x="304" dy="13.8">计划。</tspan></text></g>
<g id="n4-0-1-0"><text class="t" x="52" y="1853.8"><tspan x="52">为了尽快熟悉村情，我和工作组深入到农户家</tspan><tspan x="52" dy="13.8">中、田间地头，走访村组干部和党员干部家中</tspan><tspan x="52" dy="13.8">，就村级班子建设、经济发展等有关问题进行</tspan><tspan x="52" dy="13.8">了座谈交流，广泛征求他们对于今后工作的意</tspan><tspan x="52" dy="13.8">见和建议。针对该村经济发展尤其农业产业结</tspan><tspan x="52" dy="13.8">构问题，我多次进行了专题调查研究，听取他</tspan><tspan x="52" dy="13.8">们的意见和建议，并到贫困户家中进行调查</tspan><tspan x="52" dy="13.8">了解，与群众共谋致富路，帮助他们理清发展</tspan><tspan x="52" dy="13.8">思路。同时，我还多次主动到隔阂户家中与</tspan><tspan x="52" dy="13.8">他们谈心交流，听取他们意见和对村级工作的</tspan><tspan x="52" dy="13.8">看法和建议，并认真地解决好他们所反映的问</tspan><tspan x="52" dy="13.8">题，化解了干群之间的矛盾。通过走访、调</tspan><tspan x="52" dy="13.8">研，我全面掌握了该村基本情况及存在的问题</tspan><tspan x="52" dy="13.8">，并及时主持召开了村两委班子工作会议，</tspan><tspan x="52" dy="13.8">研究部署下步工作，因地制宜地提出了"加</tspan><tspan x="52" dy="13.8">强村级基层组织建设，积极发展村集体经济</tspan><tspan x="52" dy="13.8">，鼓励和扶持发展个体私营经济，力所能及</tspan><tspan x="52" dy="13.8">地为群众办实事、办好事，千方百计解决多</tspan><tspan x="52" dy="13.8">数群众生产生活中的困难，带动农民增产增</tspan><tspan x="52" dy="13.8">收，切实提高农民的收入。</tspan></text></g>
<g id="n4-0-2"><text class="t" x="304" y="2166"><tspan x="304">三、保持农村稳定，构建和谐社会，积极引导</tspan><tspan x="304" dy="13.8">农民脱贫致富</tspan></text></g>

<g id="n6-0"><text class="t" x="555" y="2529"><tspan x="555">在市区教育局的组织安排下，我校于20xx年</tspan><tspan x="555" dy="13.8">与高淳区桠溪中心小学结为一对一的携手共进</tspan><tspan x="555" dy="13.8">单位。在双方的共同努力下，20xx年我们也</tspan><tspan x="555" dy="13.8">按计划阶段性地开展了各项交流活动，取得了</tspan><tspan x="555" dy="13.8">积极的成效。现将有关工作总结如下：</tspan></text></g>
<g id="n6-0-0"><text class="t" x="407" y="2290.3">一、专家引领 实践指导</text></g>
<g id="n6-0-0-0"><text class="t" x="157" y="2227.9"><tspan x="157">20xx年初，两校就在桠溪小学成立了"潘文</tspan><tspan x="157" dy="13.8">彬语文特级教师工作室和魏光明数学特级教师</tspan><tspan x="157" dy="13.8">工作室"，建邺区教育局易善平局长和高淳区</tspan><tspan x="157" dy="13.8">教育局王培成局长全程参加了成立仪式。本次</tspan><tspan x="157" dy="13.8">活动开创了以特级教师工作室为依托，进行两</tspan><tspan x="157" dy="13.8">校之间"百校千师手拉手"活动的新模式，充</tspan><tspan x="157" dy="13.8">分发挥了特级教师工作室的引领作用。在本学</tspan><tspan x="157" dy="13.8">期一开始，桠溪中心小学的领导又来到中华</tspan><tspan x="157" dy="13.8">附小，与中华附小的领导一起讨论、交流本年</tspan><tspan x="157" dy="13.8">度的工作计划。</tspan></text></g>
<g id="n6-0-1"><text class="t" x="407" y="2566.7">二、活动开展 扎实有效</text></g>
<g id="n6-0-1-0"><text class="t" x="157" y="2401.4"><tspan x="157">自特级教师办公室分站成立以来，加强交流，</tspan><tspan x="157" dy="13.8">互相学习，是中华附小和桠溪小学在新学期合</tspan><tspan x="157" dy="13.8">作的主要方式，以此促进教师的专业成长。同</tspan><tspan x="157" dy="13.8">时，数学特级教师工作室高淳桠溪小学分站成</tspan><tspan x="157" dy="13.8">立以来，两校数学教师互动频繁。6月9日，</tspan><tspan x="157" dy="13.8">桠溪小学数学教师代表来到中华附小参加"多</tspan><tspan x="157" dy="13.8">元视角下的核心教学"教学研讨活动；6月17</tspan><tspan x="157" dy="13.8">日，南京、绍兴两个数学名师团队联合教</tspan><tspan x="157" dy="13.8">研。每次活动都是一天时间，虽然路途较</tspan><tspan x="157" dy="13.8">远，但高淳桠溪小学分站的老师们都是坚持</tspan><tspan x="157" dy="13.8">全程参加，认真聆听，仔细记录。</tspan></text></g>
<g id="n6-0-1-1"><text class="t" x="157" y="2587.4"><tspan x="157">深入研究课堂教学，为了更好、更深入的了解</tspan><tspan x="157" dy="13.8">附小的教学形式、管理模式，20xx年10月20</tspan><tspan x="157" dy="13.8">日至24日期间，高淳桠溪中心校委派了两位</tspan><tspan x="157" dy="13.8">教师到中华附小参与了为期一周的"百校千师</tspan><tspan x="157" dy="13.8">手拉手"教学研讨活动。两位教师潘文彬老</tspan><tspan x="157" dy="13.8">师和魏光明老师都是特级教师办公室桠溪分站</tspan><tspan x="157" dy="13.8">的成员。通过这样的教学交流研讨活动为两</tspan><tspan x="157" dy="13.8">校教师提供了良好的学习交流平台，激活了教</tspan><tspan x="157" dy="13.8">师的"教"与"学"，促进了教师教学理念的更新</tspan><tspan x="157" dy="13.8">，加深了两校的情感交流。教师们表示将以此</tspan><tspan x="157" dy="13.8">次活动为契机，携手并肩，提高自身专业素养</tspan><tspan x="157" dy="13.8">，推动教学向深度开展。</tspan></text></g>
<g id="n6-0-2"><text class="t" x="407" y="2823">三、携手共进 展望未来</text></g>
<g id="n6-0-2-0"><text class="t" x="157" y="2788"><tspan x="157">一年来，我们虽然做了许多的工作，但是我</tspan><tspan x="157" dy="13.8">们并不满足。与高淳区桠溪中心小学的合作</tspan><tspan x="157" dy="13.8">才刚刚开始，希望通过双方的共同努力，项目</tspan><tspan x="157" dy="13.8">能够顺利有深入的进展，让两校在教育教</tspan><tspan x="157" dy="13.8">学管理、课程实施、师资素质、教科研工作和</tspan><tspan x="157" dy="13.8">教学质量等方面相互提高，共圆发展梦。</tspan></text></g>
</svg>
